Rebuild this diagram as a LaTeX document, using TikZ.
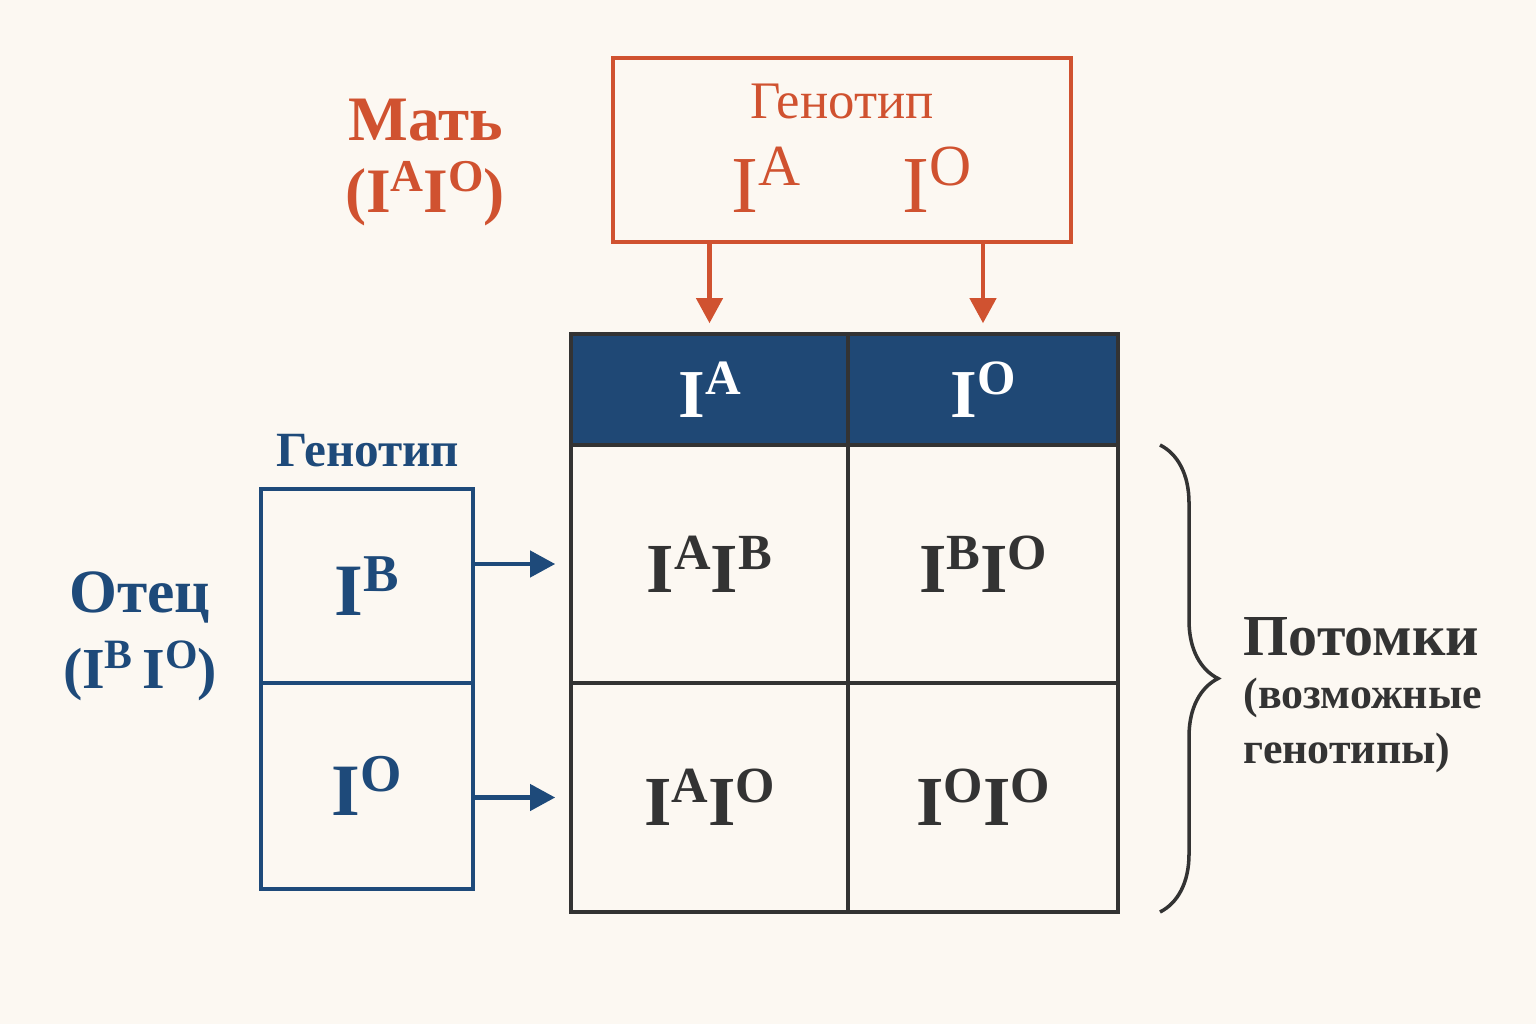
\documentclass[tikz,border=0pt]{standalone}
\usepackage{fontspec}
\setmainfont{Liberation Serif}
\usetikzlibrary{arrows.meta,decorations.pathreplacing,calc}
\definecolor{matred}{RGB}{208,82,48}
\definecolor{patblue}{RGB}{30,74,122}
\definecolor{headblue}{RGB}{31,72,117}
\definecolor{inkgray}{RGB}{51,51,51}
\definecolor{paper}{RGB}{252,248,242}
\tikzstyle{matbox}=[draw=matred, line width=1pt, minimum width=4.58cm, minimum height=1.84cm]
\tikzstyle{patcell}=[draw=patblue, line width=1pt, text=patblue, minimum width=2.12cm]
\tikzstyle{headcell}=[draw=inkgray, fill=headblue, text=white, line width=1pt, minimum height=1.11cm]
\tikzstyle{cell}=[draw=inkgray, line width=1pt, text=inkgray]
\tikzstyle{matarrow}=[matred, line width=1.2pt, -{Triangle[width=0.26cm,length=0.25cm]}, shorten >=0.09cm]
\tikzstyle{patarrow}=[patblue, line width=1.2pt, -{Triangle[width=0.26cm,length=0.25cm]}, shorten >=0.14cm]
\newcommand{\allele}[1]{I\raisebox{.33em}{\scalebox{.72}{#1}}}
\newcommand{\fsz}[1]{\fontsize{#1}{#1}\selectfont}

\begin{document}
\begin{tikzpicture}[x=0.01cm, y=-0.01cm]
	\fill[paper] (0,0) rectangle (1536,1024);
	\useasboundingbox (0,0) rectangle (1536,1024);
	% mother
	\node[text=matred, anchor=base] (mat) at (426,140) {\fsz{18}\bfseries Мать};
	\node[text=matred, anchor=base, inner sep=0pt] (matgt) at (425,212) {\fsz{18}\bfseries(\allele{A}\allele{O})};
	\node[matbox] (mom) at (842,150) {};
	\node[text=matred, anchor=base] (momlab) at (842,118) {\fsz{15}Генотип};
	\node[text=matred, anchor=base] (moma) at (766,212) {\fsz{23}\allele{A}};
	\node[text=matred, anchor=base] (momo) at (937,212) {\fsz{23}\allele{O}};
	% grid
	\node[headcell, minimum width=2.77cm] (h1) at (709.5,389.5) {\fsz{19.5}\bfseries\allele{A}};
	\node[headcell, minimum width=2.70cm] (h2) at (983,389.5) {\fsz{19.5}\bfseries\allele{O}};
	\node[cell, minimum width=2.77cm, minimum height=2.38cm] (c11) at (709.5,564) {\fsz{20}\bfseries\allele{A}\allele{B}};
	\node[cell, minimum width=2.70cm, minimum height=2.38cm] (c12) at (983,564) {\fsz{20}\bfseries\allele{B}\allele{O}};
	\node[cell, minimum width=2.77cm, minimum height=2.29cm] (c21) at (709.5,797.5) {\fsz{20}\bfseries\allele{A}\allele{O}};
	\node[cell, minimum width=2.70cm, minimum height=2.29cm] (c22) at (983,797.5) {\fsz{20}\bfseries\allele{O}\allele{O}};
	\draw[matarrow] (mom.south -| h1.north) -- (h1.north);
	\draw[matarrow] (mom.south -| h2.north) -- (h2.north);
	% father
	\node[text=patblue, anchor=base] (patlab) at (368,466) {\fsz{14}\bfseries Генотип};
	\node[text=patblue, anchor=base] (pat) at (140,612) {\fsz{17.5}\bfseries Отец};
	\node[text=patblue, anchor=base] (patgt) at (140,688) {\fsz{16.5}\bfseries(\allele{B}\,\allele{O})};
	\node[patcell, minimum height=1.94cm] (pa1) at (367,586) {\fsz{21}\bfseries\allele{B}};
	\node[patcell, minimum height=2.06cm] (pa2) at (367,786) {\fsz{21}\bfseries\allele{O}};
	\draw[patarrow] (pa1.east |- c11.west) -- (c11.west);
	\draw[patarrow] (pa2.east |- c21.west) -- (c21.west);
	% offspring
	\coordinate (brtop) at (1160,445);
	\coordinate (brbot) at (1160,912);
	\draw[inkgray, line width=1pt, decorate, decoration={brace, amplitude=0.58cm}] (brtop) -- (brbot);
	\node[text=inkgray, anchor=base west, inner sep=0pt] (off) at (1243,655) {\fsz{16.5}\bfseries Потомки};
	\node[text=inkgray, anchor=base west, inner sep=0pt] (offa) at (1243,708) {\fsz{12.5}\bfseries(возможные};
	\node[text=inkgray, anchor=base west, inner sep=0pt] (offb) at (1243,763) {\fsz{12.5}\bfseries генотипы)};
\end{tikzpicture}
\end{document}
